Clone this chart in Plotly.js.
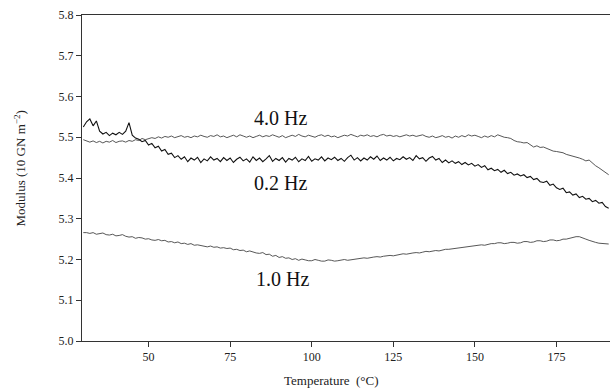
<!DOCTYPE html>
<html><head><meta charset="utf-8">
<script src="https://cdn.plot.ly/plotly-3.0.1.min.js"></script>
<style>html,body{margin:0;padding:0;background:#fff}#chart{width:610px;height:391px}</style>
</head><body><div id="chart"></div>
<script>
const temperature = [
30,31,32,33,34,35,36,37,38,39,
40,41,42,43,44,45,46,47,48,49,
50,51,52,53,54,55,56,57,58,59,
60,61,62,63,64,65,66,67,68,69,
70,71,72,73,74,75,76,77,78,79,
80,81,82,83,84,85,86,87,88,89,
90,91,92,93,94,95,96,97,98,99,
100,101,102,103,104,105,106,107,108,109,
110,111,112,113,114,115,116,117,118,119,
120,121,122,123,124,125,126,127,128,129,
130,131,132,133,134,135,136,137,138,139,
140,141,142,143,144,145,146,147,148,149,
150,151,152,153,154,155,156,157,158,159,
160,161,162,163,164,165,166,167,168,169,
170,171,172,173,174,175,176,177,178,179,
180,181,182,183,184,185,186,187,188,189,
190,191];

const modulus4Hz = [
5.494,5.490,5.488,5.491,5.487,5.490,5.486,5.490,5.488,5.492,
5.487,5.490,5.491,5.488,5.492,5.490,5.494,5.492,5.497,5.494,
5.496,5.499,5.497,5.501,5.498,5.502,5.500,5.503,5.499,5.502,
5.504,5.500,5.502,5.499,5.503,5.501,5.505,5.502,5.500,5.504,
5.502,5.506,5.501,5.503,5.499,5.502,5.505,5.501,5.506,5.503,
5.500,5.503,5.499,5.502,5.505,5.501,5.504,5.502,5.506,5.503,
5.500,5.504,5.499,5.502,5.505,5.502,5.507,5.503,5.501,5.505,
5.503,5.500,5.504,5.506,5.502,5.505,5.501,5.503,5.499,5.502,
5.505,5.503,5.507,5.504,5.501,5.505,5.503,5.506,5.502,5.504,
5.501,5.505,5.507,5.503,5.505,5.502,5.504,5.501,5.503,5.506,
5.503,5.505,5.502,5.504,5.506,5.502,5.500,5.503,5.499,5.501,
5.504,5.500,5.502,5.498,5.503,5.500,5.504,5.501,5.506,5.503,
5.505,5.502,5.499,5.503,5.500,5.504,5.501,5.506,5.502,5.500,
5.499,5.497,5.492,5.489,5.488,5.486,5.487,5.481,5.476,5.479,
5.475,5.476,5.473,5.469,5.466,5.465,5.463,5.462,5.458,5.456,
5.454,5.451,5.449,5.446,5.442,5.444,5.436,5.430,5.425,5.419,
5.413,5.408];

const modulus02Hz = [
5.525,5.538,5.545,5.528,5.540,5.515,5.508,5.512,5.504,5.510,
5.506,5.512,5.507,5.515,5.536,5.505,5.498,5.495,5.489,5.492,
5.481,5.485,5.474,5.478,5.466,5.470,5.458,5.461,5.450,5.455,
5.446,5.452,5.440,5.449,5.444,5.451,5.438,5.447,5.442,5.452,
5.444,5.448,5.440,5.450,5.443,5.449,5.438,5.446,5.451,5.442,
5.447,5.439,5.452,5.443,5.449,5.440,5.447,5.455,5.441,5.448,
5.443,5.450,5.439,5.448,5.444,5.451,5.440,5.447,5.443,5.453,
5.441,5.447,5.444,5.452,5.442,5.449,5.445,5.451,5.443,5.448,
5.441,5.450,5.456,5.444,5.450,5.442,5.449,5.444,5.452,5.446,
5.454,5.443,5.449,5.444,5.451,5.442,5.448,5.445,5.452,5.446,
5.450,5.443,5.455,5.447,5.450,5.441,5.449,5.453,5.444,5.448,
5.438,5.444,5.437,5.442,5.436,5.440,5.433,5.438,5.432,5.436,
5.429,5.433,5.426,5.430,5.420,5.424,5.418,5.421,5.414,5.419,
5.411,5.414,5.407,5.410,5.405,5.408,5.401,5.404,5.396,5.399,
5.391,5.389,5.392,5.382,5.385,5.376,5.372,5.375,5.364,5.366,
5.358,5.361,5.352,5.355,5.348,5.350,5.342,5.345,5.338,5.340,
5.330,5.326];

const modulus1Hz = [
5.266,5.266,5.264,5.266,5.262,5.263,5.265,5.261,5.260,5.262,
5.258,5.259,5.261,5.257,5.255,5.256,5.252,5.254,5.253,5.250,
5.251,5.248,5.247,5.249,5.246,5.247,5.243,5.244,5.241,5.243,
5.239,5.240,5.237,5.239,5.235,5.236,5.234,5.233,5.231,5.233,
5.230,5.231,5.228,5.229,5.227,5.228,5.224,5.225,5.222,5.223,
5.219,5.221,5.218,5.216,5.215,5.217,5.212,5.213,5.208,5.210,
5.205,5.207,5.203,5.204,5.200,5.202,5.198,5.201,5.199,5.197,
5.197,5.200,5.198,5.196,5.196,5.199,5.198,5.196,5.197,5.199,
5.200,5.198,5.199,5.201,5.202,5.203,5.204,5.203,5.205,5.206,
5.207,5.206,5.208,5.209,5.210,5.209,5.211,5.213,5.214,5.213,
5.215,5.216,5.217,5.216,5.218,5.220,5.219,5.221,5.222,5.221,
5.223,5.225,5.225,5.226,5.227,5.229,5.229,5.230,5.231,5.233,
5.233,5.234,5.236,5.235,5.237,5.239,5.239,5.241,5.241,5.239,
5.240,5.242,5.242,5.240,5.241,5.244,5.244,5.242,5.243,5.246,
5.246,5.244,5.245,5.248,5.248,5.246,5.247,5.250,5.250,5.252,
5.253,5.256,5.256,5.252,5.250,5.247,5.244,5.242,5.240,5.239,
5.238,5.238];

const seriesLabels = ['4.0 Hz', '0.2 Hz', '1.0 Hz'];
const labelX = [90.3, 90.3, 90.9];
const labelY = [5.547, 5.388, 5.152];
const xTicks = [50, 75, 100, 125, 150, 175];
const yTicks = [5.0, 5.1, 5.2, 5.3, 5.4, 5.5, 5.6, 5.7, 5.8];

const serif = 'Liberation Serif, Times New Roman, serif';

const traces = [
  {x: temperature, y: modulus4Hz, mode: 'lines', line: {color: '#444', width: 0.9}, hoverinfo: 'skip'},
  {x: temperature, y: modulus02Hz, mode: 'lines', line: {color: '#111', width: 1.1}, hoverinfo: 'skip'},
  {x: temperature, y: modulus1Hz, mode: 'lines', line: {color: '#444', width: 0.9}, hoverinfo: 'skip'}
];

const annotations = seriesLabels.map((t, i) => ({
  x: labelX[i], y: labelY[i], xref: 'x', yref: 'y', text: t, showarrow: false,
  font: {family: serif, size: 20, color: '#111'}, xanchor: 'center', yanchor: 'middle'
}));
annotations.push({
  xref: 'paper', yref: 'paper', x: -0.117, y: 0.53, textangle: -90, showarrow: false,
  text: 'Modulus (10 GN m<sup>\u22122</sup>)', font: {family: serif, size: 13, color: '#222'},
  xanchor: 'center', yanchor: 'middle'
});
annotations.push({
  xref: 'paper', yref: 'paper', x: 0.473, y: -0.12, showarrow: false,
  text: 'Temperature\u00a0 (\u00b0C)', font: {family: serif, size: 13, color: '#222'},
  xanchor: 'center', yanchor: 'middle'
});

const layout = {
  width: 610, height: 391,
  margin: {l: 82, r: 0, t: 15, b: 50},
  paper_bgcolor: '#fff', plot_bgcolor: '#fff',
  showlegend: false,
  xaxis: {
    range: [29.6, 191.4], tickvals: xTicks, ticks: 'outside', ticklen: 5, tickcolor: '#333',
    showline: true, linecolor: '#333', linewidth: 1, mirror: true, showgrid: false, zeroline: false,
    tickfont: {family: serif, size: 12, color: '#222'}
  },
  yaxis: {
    range: [5.0, 5.8], tickvals: yTicks, tickformat: '.1f', ticks: 'outside', ticklen: 5, tickcolor: '#333',
    showline: true, linecolor: '#333', linewidth: 1, showgrid: false, zeroline: false,
    tickfont: {family: serif, size: 12, color: '#222'}
  },
  annotations: annotations
};

Plotly.newPlot('chart', traces, layout, {staticPlot: true, displayModeBar: false});
</script>
</body></html>
